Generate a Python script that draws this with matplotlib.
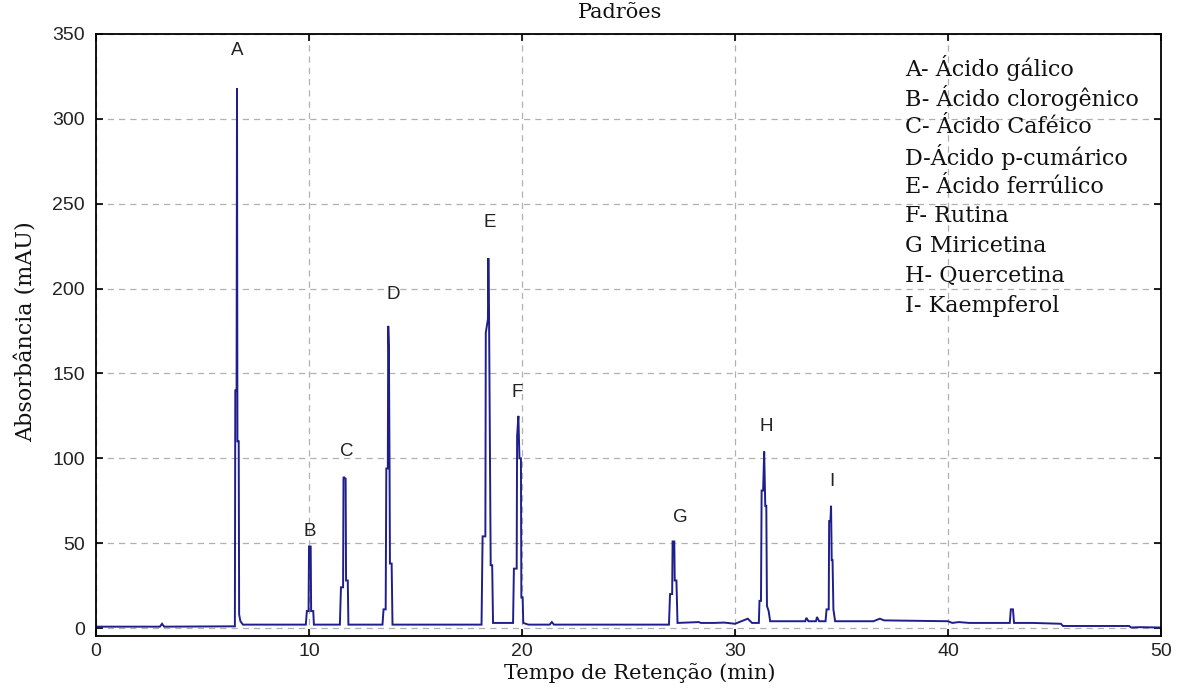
import matplotlib
matplotlib.use("Agg")
import matplotlib.pyplot as plt

# ---- data ----
time_min = [
    0.0, 3.0, 3.1, 3.2, 6.4,
    6.52, 6.54, 6.60, 6.62, 6.64, 6.70, 6.72, 6.78, 6.9,
    9.85, 9.90, 9.98, 10.0, 10.08, 10.10, 10.2, 10.23,
    11.45, 11.5, 11.6, 11.62, 11.72, 11.74, 11.82, 11.85,
    13.45, 13.5, 13.6, 13.63, 13.7, 13.72, 13.75, 13.78, 13.8, 13.88, 13.92,
    18.1, 18.15, 18.28, 18.3, 18.4, 18.42, 18.45, 18.53, 18.6, 18.64,
    19.58, 19.62, 19.75, 19.77, 19.83, 19.88, 19.95, 19.97, 20.03, 20.06, 20.3,
    21.3, 21.4, 21.5,
    26.9, 26.95, 27.05, 27.07, 27.15, 27.17, 27.25, 27.3,
    28.3, 28.4, 29.0, 29.5, 30.0, 30.6, 30.8,
    31.12, 31.15, 31.22, 31.25, 31.32, 31.37, 31.42, 31.47, 31.5, 31.58, 31.65,
    33.3, 33.35, 33.45, 33.8, 33.85, 33.95,
    34.25, 34.3, 34.4, 34.42, 34.48, 34.51, 34.54, 34.58, 34.62, 34.7,
    36.5, 36.8, 37.0, 40.0, 40.2, 40.5, 41.0, 42.0, 42.9, 42.95, 43.05, 43.1,
    44.0, 45.3, 45.4, 48.5, 48.6, 49.0, 50.0,
]
absorbance_mAU = [
    0.8, 0.8, 2.5, 0.8, 1.0,
    1.0, 140, 140, 318, 110, 110, 8, 4, 2,
    2, 10, 10, 48, 48, 10, 10, 2,
    2, 24, 24, 89, 88, 28, 28, 2,
    2, 11, 11, 94, 94, 178, 166, 100, 38, 38, 2,
    2, 54, 54, 174, 182, 218, 190, 37, 37, 3,
    3, 35, 35, 113, 125, 100, 100, 18, 18, 3, 2,
    2, 3.5, 2,
    2, 20, 20, 51, 51, 28, 28, 3,
    3.5, 3, 3, 3.2, 2.5, 5.5, 3,
    3, 16, 16, 81, 81, 104, 72, 72, 13, 10, 4,
    4, 6, 4, 4, 6.5, 4,
    4, 11, 11, 63, 63, 72, 40, 40, 11, 4,
    4, 5.5, 4.5, 4, 3, 3.5, 3, 3, 3, 11, 11, 3,
    3, 2.5, 1.2, 1.2, 0.3, 0.5, 0.3,
]

peak_names = ["A", "B", "C", "D", "E", "F", "G", "H", "I"]
peak_label_t = [6.62, 10.05, 11.78, 13.94, 18.5, 19.77, 27.42, 31.46, 34.55]
peak_label_y = [340, 56.7, 104, 196.6, 239, 139, 64.9, 119, 86.2]

legend_lines = [
    "A- Ácido gálico",
    "B- Ácido clorogênico",
    "C- Ácido Caféico",
    "D-Ácido p-cumárico",
    "E- Ácido ferrúlico",
    "F- Rutina",
    "G Miricetina",
    "H- Quercetina",
    "I- Kaempferol",
]

x_ticks = [0, 10, 20, 30, 40, 50]
y_ticks = [0, 50, 100, 150, 200, 250, 300, 350]

title = "Padrões"
x_label = "Tempo de Retenção (min)"
y_label = "Absorbância (mAU)"

# ---- figure ----
W, H = 1180, 690
fig = plt.figure(figsize=(W / 100, H / 100), dpi=100)
ax_l, ax_r, ax_t, ax_b = 96, 1161, 34, 636
ax = fig.add_axes([ax_l / W, 1 - ax_b / H, (ax_r - ax_l) / W, (ax_b - ax_t) / H])

ax.plot(time_min, absorbance_mAU, color="#1f1f8c", lw=1.4, solid_joinstyle="miter")

ax.set_xlim(0, 50)
ax.set_ylim(-4.7, 350)
ax.set_xticks(x_ticks)
ax.set_yticks(y_ticks)
ax.grid(True, color="#b0b0b0", lw=0.9, linestyle=(0, (5, 4)))
ax.set_axisbelow(True)
for s in ax.spines.values():
    s.set_linewidth(1.3)
    s.set_color("black")

ax.tick_params(direction="in", length=5, width=1.2, top=True, right=True,
               labelsize=14, colors="black")
ax.tick_params(axis="x", pad=5)
ax.tick_params(axis="y", pad=8)
for lab in ax.get_xticklabels() + ax.get_yticklabels():
    lab.set_fontfamily("Liberation Sans")
    lab.set_color("#222222")

for name, tx, ty in zip(peak_names, peak_label_t, peak_label_y):
    ax.text(tx, ty, name, ha="center", va="center", fontsize=13.5,
            family="Liberation Sans", color="#222222")

for i, line in enumerate(legend_lines):
    ypix = 68 + 29.7 * i
    ax.text((905 - ax_l) / (ax_r - ax_l), (ax_b - ypix) / (ax_b - ax_t), line,
            transform=ax.transAxes, ha="left", va="center", fontsize=16,
            family="DejaVu Serif", color="#111111")

fig.text(620 / W, 1 - 13 / H, title, ha="center", va="center", fontsize=15,
         family="DejaVu Serif", color="#111111")

ax.set_xlabel(x_label, fontsize=15, family="DejaVu Serif", color="#111111")
ax.xaxis.set_label_coords((640 - ax_l) / (ax_r - ax_l), (ax_b - 673) / (ax_b - ax_t))
ax.xaxis.label.set_verticalalignment("center")
ax.set_ylabel(y_label, fontsize=16, family="DejaVu Serif", color="#111111")
ax.yaxis.set_label_coords((27 - ax_l) / (ax_r - ax_l), (ax_b - 332) / (ax_b - ax_t))
ax.yaxis.label.set_verticalalignment("center")

fig.savefig("out.png", dpi=100, facecolor="white")
